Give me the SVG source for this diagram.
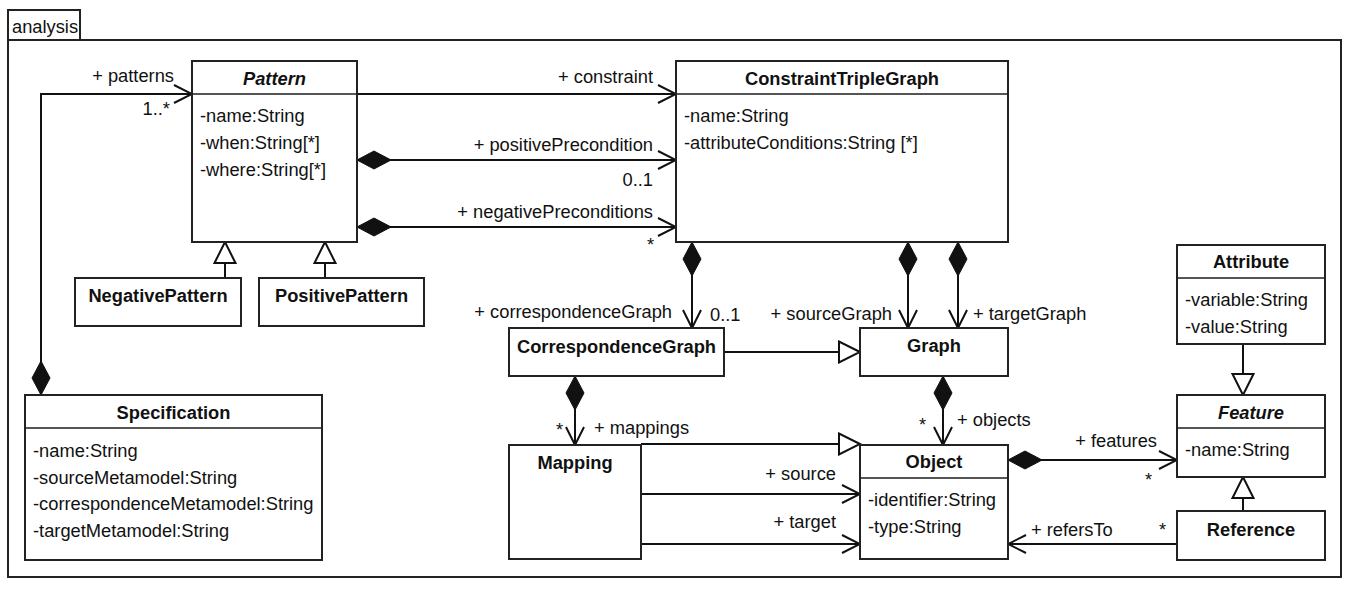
<svg xmlns="http://www.w3.org/2000/svg" width="1350" height="590" viewBox="0 0 1350 590">
<style>
text{font-family:"Liberation Sans",Arial,Helvetica,sans-serif;font-size:18.3px;fill:#111}
.t{font-weight:bold;text-anchor:middle}
.ti{font-weight:bold;font-style:italic;text-anchor:middle}
.e{text-anchor:end}
.box{fill:#fff;stroke:#222;stroke-width:2}
.hd{stroke:#555;stroke-width:2}
.ln{fill:none;stroke:#111;stroke-width:2}
.frame{fill:none;stroke:#222;stroke-width:2}
</style>
<defs>
<marker id="arrow" viewBox="-20 -11 22 22" refX="0" refY="0" markerWidth="22" markerHeight="22" markerUnits="userSpaceOnUse" orient="auto">
<path d="M-18,-9 L0,0 L-18,9" fill="none" stroke="#111" stroke-width="2"/>
</marker>
<marker id="diamond" viewBox="-1 -11 37 22" refX="0" refY="0" markerWidth="37" markerHeight="22" markerUnits="userSpaceOnUse" orient="auto">
<path d="M0,0 L17,-9 L34,0 L17,9 Z" fill="#111" stroke="#111" stroke-width="1"/>
</marker>
<marker id="tri" viewBox="-23 -12 25 24" refX="0" refY="0" markerWidth="25" markerHeight="24" markerUnits="userSpaceOnUse" orient="auto">
<path d="M0,0 L-21,-10.5 L-21,10.5 Z" fill="#fff" stroke="#111" stroke-width="2"/>
</marker>
</defs>
<rect x="0" y="0" width="1350" height="590" fill="#fff"/>
<g id="frame">
<rect class="frame" x="8" y="40" width="1333" height="537"/>
<rect class="frame" x="8" y="10" width="72" height="30"/>
<text x="12" y="33">analysis</text>
</g>
<g id="connectors">
<path class="ln" d="M41,395 L41,94 L192,94" marker-start="url(#diamond)" marker-end="url(#arrow)"/>
<path class="ln" d="M357,94 L676,94" marker-end="url(#arrow)"/>
<path class="ln" d="M357,160 L676,160" marker-start="url(#diamond)" marker-end="url(#arrow)"/>
<path class="ln" d="M357,227 L676,227" marker-start="url(#diamond)" marker-end="url(#arrow)"/>
<path class="ln" d="M225,278 L225,242" marker-end="url(#tri)"/>
<path class="ln" d="M325,278 L325,242" marker-end="url(#tri)"/>
<path class="ln" d="M692,242 L692,328" marker-start="url(#diamond)" marker-end="url(#arrow)"/>
<path class="ln" d="M908,242 L908,328" marker-start="url(#diamond)" marker-end="url(#arrow)"/>
<path class="ln" d="M958,242 L958,328" marker-start="url(#diamond)" marker-end="url(#arrow)"/>
<path class="ln" d="M724,352 L860,352" marker-end="url(#tri)"/>
<path class="ln" d="M575,376 L575,445" marker-start="url(#diamond)" marker-end="url(#arrow)"/>
<path class="ln" d="M943,376 L943,445" marker-start="url(#diamond)" marker-end="url(#arrow)"/>
<path class="ln" d="M641,444 L860,444" marker-end="url(#tri)"/>
<path class="ln" d="M641,494 L860,494" marker-end="url(#arrow)"/>
<path class="ln" d="M641,544 L860,544" marker-end="url(#arrow)"/>
<path class="ln" d="M1008,460 L1177,460" marker-start="url(#diamond)" marker-end="url(#arrow)"/>
<path class="ln" d="M1177,544 L1008,544" marker-end="url(#arrow)"/>
<path class="ln" d="M1243,344 L1243,395" marker-end="url(#tri)"/>
<path class="ln" d="M1243,511 L1243,477" marker-end="url(#tri)"/>
<text class="e" x="174" y="82">+ patterns</text>
<text class="e" x="170" y="115">1..*</text>
<text class="e" x="653" y="83">+ constraint</text>
<text class="e" x="653" y="151">+ positivePrecondition</text>
<text class="e" x="653" y="186">0..1</text>
<text class="e" x="653" y="218">+ negativePreconditions</text>
<text class="e" x="654" y="251">*</text>
<text class="e" x="672" y="318">+ correspondenceGraph</text>
<text x="710" y="321">0..1</text>
<text class="e" x="892" y="320">+ sourceGraph</text>
<text x="973" y="320">+ targetGraph</text>
<text x="556" y="436">*</text>
<text x="594" y="434">+ mappings</text>
<text x="919" y="431">*</text>
<text x="957" y="426">+ objects</text>
<text class="e" x="836" y="480">+ source</text>
<text class="e" x="836" y="528">+ target</text>
<text class="e" x="1157" y="447">+ features</text>
<text x="1145" y="486">*</text>
<text x="1031" y="536">+ refersTo</text>
<text x="1159" y="536">*</text>
</g>
<g id="Pattern">
<rect class="box" x="192" y="61" width="165" height="181"/>
<line class="hd" x1="193" y1="94" x2="356" y2="94"/>
<text class="ti" x="274.5" y="85">Pattern</text>
<text x="200" y="122">-name:String</text>
<text x="200" y="149">-when:String[*]</text>
<text x="200" y="176">-where:String[*]</text>
</g>
<g id="ConstraintTripleGraph">
<rect class="box" x="676" y="61" width="332" height="181"/>
<line class="hd" x1="677" y1="94" x2="1007" y2="94"/>
<text class="t" x="842" y="85">ConstraintTripleGraph</text>
<text x="684" y="122">-name:String</text>
<text x="684" y="149">-attributeConditions:String [*]</text>
</g>
<g id="NegativePattern">
<rect class="box" x="75" y="278" width="166" height="48"/>
<text class="t" x="158" y="302">NegativePattern</text>
</g>
<g id="PositivePattern">
<rect class="box" x="259" y="278" width="165" height="48"/>
<text class="t" x="341.5" y="302">PositivePattern</text>
</g>
<g id="Specification">
<rect class="box" x="25" y="395" width="297" height="165"/>
<line class="hd" x1="26" y1="428" x2="321" y2="428"/>
<text class="t" x="173.5" y="419">Specification</text>
<text x="33" y="457">-name:String</text>
<text x="33" y="484">-sourceMetamodel:String</text>
<text x="33" y="510">-correspondenceMetamodel:String</text>
<text x="33" y="537">-targetMetamodel:String</text>
</g>
<g id="CorrespondenceGraph">
<rect class="box" x="509" y="328" width="215" height="48"/>
<text class="t" x="616.5" y="353">CorrespondenceGraph</text>
</g>
<g id="Graph">
<rect class="box" x="860" y="328" width="148" height="48"/>
<text class="t" x="934" y="352">Graph</text>
</g>
<g id="Mapping">
<rect class="box" x="509" y="445" width="132" height="114"/>
<text class="t" x="575" y="469">Mapping</text>
</g>
<g id="Object">
<rect class="box" x="860" y="445" width="148" height="114"/>
<line class="hd" x1="861" y1="478" x2="1007" y2="478"/>
<text class="t" x="934" y="468">Object</text>
<text x="868" y="506">-identifier:String</text>
<text x="868" y="533">-type:String</text>
</g>
<g id="Attribute">
<rect class="box" x="1177" y="245" width="148" height="99"/>
<line class="hd" x1="1178" y1="278" x2="1324" y2="278"/>
<text class="t" x="1251" y="268">Attribute</text>
<text x="1185" y="306">-variable:String</text>
<text x="1185" y="333">-value:String</text>
</g>
<g id="Feature">
<rect class="box" x="1177" y="395" width="148" height="82"/>
<line class="hd" x1="1178" y1="428" x2="1324" y2="428"/>
<text class="ti" x="1251" y="419">Feature</text>
<text x="1185" y="456">-name:String</text>
</g>
<g id="Reference">
<rect class="box" x="1177" y="511" width="148" height="49"/>
<text class="t" x="1251" y="536">Reference</text>
</g>
</svg>
